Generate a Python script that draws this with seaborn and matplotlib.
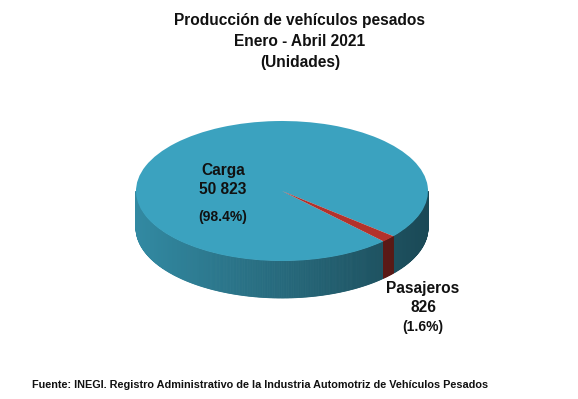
"""Producción de vehículos pesados, enero-abril 2021 - pie 3D (INEGI)."""
import matplotlib

matplotlib.use("Agg")
import matplotlib.pyplot as plt
import numpy as np
import seaborn as sns

categorias = ["Carga", "Pasajeros"]
unidades = [50823, 826]
colores = ["#3ba2bf", "#b3322b"]

titulo = ["Producción de vehículos pesados", "Enero - Abril 2021", "(Unidades)"]
fuente = ("Fuente: INEGI. Registro Administrativo de la Industria Automotriz "
          "de Vehículos Pesados")

sns.set_theme(style="white")
plt.rcParams["font.family"] = ["Liberation Sans", "DejaVu Sans"]

W, H = 578, 399
fig = plt.figure(figsize=(W / 100, H / 100), dpi=100)

# axes placed so the unit pie becomes an ellipse: rx=146 px, ry=70 px, centre (282,191)
ax = fig.add_axes([82 / W, (H - 341) / H, 400 / W, 240 / H])
wedges, _ = ax.pie(unidades, colors=colores, startangle=-46, counterclock=False,
                   radius=1, center=(0, 0), wedgeprops=dict(linewidth=0))
for w in wedges:
    w.set_zorder(5)
ax.set_aspect("auto")
ax.set_xlim(-200 / 146, 200 / 146)
ax.set_ylim(-150 / 70, 90 / 70)
ax.axis("off")

depth = 37 / 70


def lower_arcs(t1, t2):
    out = []
    for k in range(-3, 3):
        a, b = max(t1, 180 + 360 * k), min(t2, 360 + 360 * k)
        if a < b:
            out.append((a, b))
    return out


# side of the cylinder, shaded lighter at left and darker at right
for w, col in zip(wedges, colores):
    base = np.array(matplotlib.colors.to_rgb(col))
    for a, b in lower_arcs(w.theta1, w.theta2):
        th = np.radians(np.linspace(a, b, int((b - a) / 0.5) + 2))
        for t0, t1 in zip(th[:-1], th[1:]):
            c = np.cos((t0 + t1) / 2)
            f = 0.85 - 0.4 * (1 + c) / 2
            shade = base * f
            xs = [np.cos(t0), np.cos(t1), np.cos(t1), np.cos(t0)]
            ys = [np.sin(t0), np.sin(t1), np.sin(t1) - depth, np.sin(t0) - depth]
            ax.fill(xs, ys, color=shade, lw=0.6, zorder=2)


def fy(y):
    return 1 - y / H


for txt, y in zip(titulo, [20, 41.5, 63]):
    fig.text(300 / W, fy(y), txt, ha="center", va="center",
             fontsize=11.2, fontweight="bold", color="#111111")

total = sum(unidades)
pos = {"Carga": (223, [170, 190, 217]), "Pasajeros": (423, [288, 307, 327])}
for cat, val in zip(categorias, unidades):
    x, ys = pos[cat]
    num = f"{val:,}".replace(",", " ")
    pct = f"({100 * val / total:.1f}%)"
    fig.text(x / W, fy(ys[0]), cat, ha="center", va="center",
             fontsize=11.2, fontweight="bold", color="#111111")
    fig.text(x / W, fy(ys[1]), num, ha="center", va="center",
             fontsize=11.2, fontweight="bold", color="#111111")
    fig.text(x / W, fy(ys[2]), pct, ha="center", va="center",
             fontsize=10, fontweight="bold", color="#111111")

fig.text(260 / W, fy(385), fuente, ha="center", va="center",
         fontsize=7.8, fontweight="bold", color="#111111")

fig.savefig("out.png", dpi=100, facecolor="white")
